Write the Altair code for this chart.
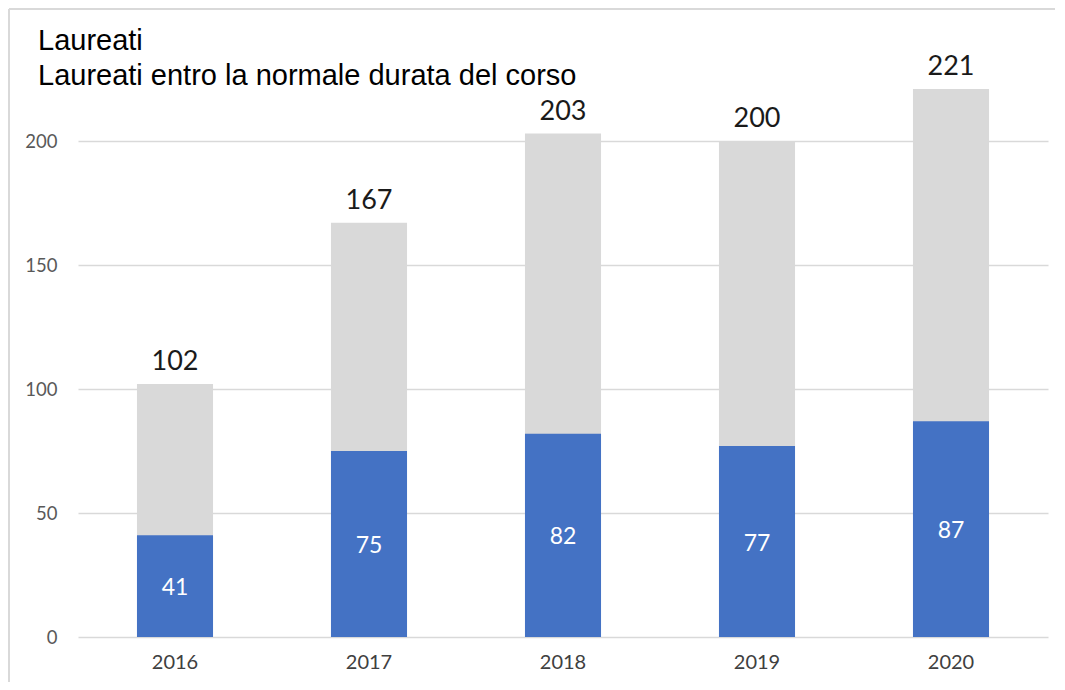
import altair as alt
import pandas as pd

years = ["2016", "2017", "2018", "2019", "2020"]
laureati = [102, 167, 203, 200, 221]
laureati_in_corso = [41, 75, 82, 77, 87]
y_ticks = [0, 50, 100, 150, 200]

df = pd.DataFrame({"anno": years, "laureati": laureati, "in_corso": laureati_in_corso})

W, H = 970, 496
PAD = {"left": 70, "top": 133, "right": 7, "bottom": 45}

x_enc = alt.X(
    "anno:N",
    sort=years,
    scale=alt.Scale(paddingInner=0.608, paddingOuter=0.304),
    axis=alt.Axis(title=None, labelAngle=0, domain=False, ticks=False,
                  labelFont="Lato", labelFontSize=20, labelColor="#404040",
                  labelPadding=15),
)
y_scale = alt.Scale(domain=[0, 200], nice=False)

base = alt.Chart(df)

grey = base.mark_bar(color="#d9d9d9").encode(
    x=x_enc,
    y=alt.Y("laureati:Q", scale=y_scale,
            axis=alt.Axis(title=None, values=y_ticks, domain=False, ticks=False,
                          grid=True, gridColor="#d9d9d9", gridWidth=1.5,
                          labelFont="Lato", labelFontSize=18.5, labelColor="#595959",
                          labelPadding=21)),
)
blue = base.mark_bar(color="#4472c4").encode(x=x_enc, y=alt.Y("in_corso:Q", scale=y_scale))

tot_text = base.mark_text(dy=-22, baseline="middle", font="Lato", fontSize=27,
                          color="#1a1a1a").encode(
    x=x_enc, y=alt.Y("laureati:Q", scale=y_scale), text="laureati:Q")

in_text = base.transform_calculate(mid="datum.in_corso / 2").mark_text(
    baseline="middle", dy=2, font="Lato", fontSize=23, color="white").encode(
    x=x_enc, y=alt.Y("mid:Q", scale=y_scale), text="in_corso:Q")

frame = alt.Chart(pd.DataFrame({"k": [0]}))
left_border = frame.mark_rule(color="#d9d9d9", strokeWidth=2).encode(
    x=alt.value(-PAD["left"] + 1), y=alt.value(-PAD["top"] + 1),
    y2=alt.value(H + PAD["bottom"]))
top_border = frame.mark_rule(color="#d9d9d9", strokeWidth=2).encode(
    x=alt.value(-PAD["left"] + 1), x2=alt.value(W + PAD["right"]),
    y=alt.value(-PAD["top"] + 1))

chart = alt.layer(grey, blue, tot_text, in_text, left_border, top_border).properties(
    width=W, height=H,
    autosize=alt.AutoSizeParams(type="none"),
    padding=PAD,
    title=alt.TitleParams(
        text="Laureati",
        subtitle="Laureati entro la normale durata del corso",
        anchor="start", frame="group", dx=-40, offset=-83,
        font="Liberation Sans", fontSize=29, fontWeight="normal", color="#000000",
        subtitleFont="Liberation Sans", subtitleFontSize=29, subtitleColor="#000000",
        subtitlePadding=6,
    ),
).configure_view(stroke=None)

chart.save("out.html", embed_options={"renderer": "svg", "actions": False})
